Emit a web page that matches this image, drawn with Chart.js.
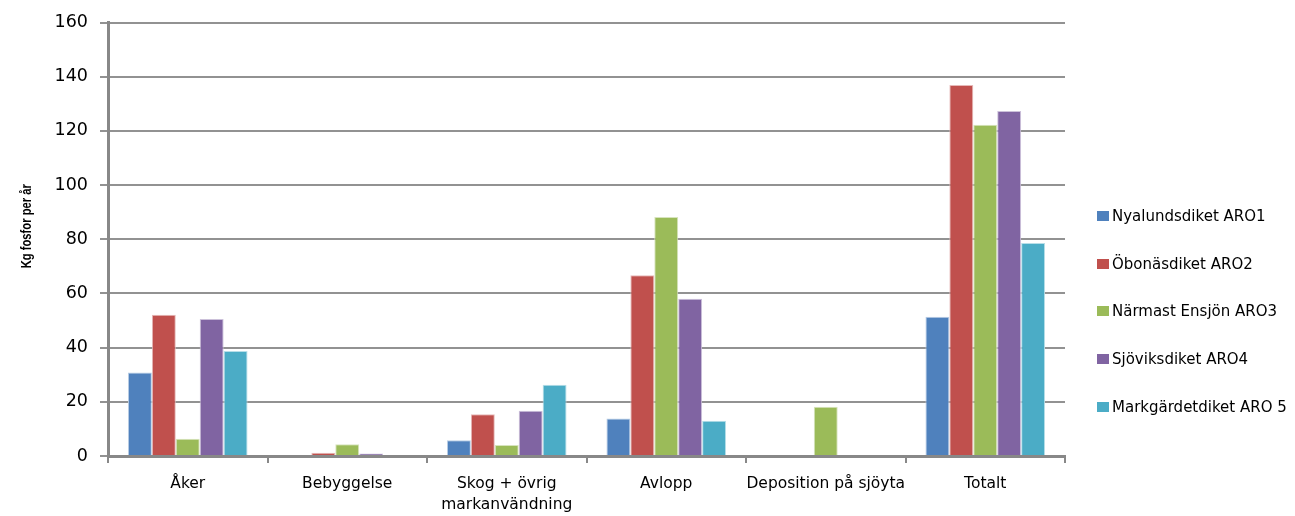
<!DOCTYPE html>
<html>
<head>
<meta charset="utf-8">
<script src="https://cdn.jsdelivr.net/npm/chart.js@4/dist/chart.umd.min.js"></script>
<style>
  html, body { margin: 0; padding: 0; background: #ffffff; }
  #wrap { position: relative; width: 1295px; height: 516px; }
  #c { display: block; }
  #legend { position: absolute; left: 0; top: 0; font-family: 'DejaVu Sans', sans-serif; font-size: 15px; color: #000; }
  .item { position: absolute; white-space: nowrap; height: 20px; line-height: 20px; display: flex; align-items: center; }
  .box { width: 12px; height: 10px; margin-right: 3px; }
</style>
</head>
<body>
<div id="wrap">
  <canvas id="c" width="1295" height="516"></canvas>
  <div id="legend"></div>
</div>
<script>
// Categories (phosphorus sources) and kg P per year for each sub-catchment
const categories = ['Åker', 'Bebyggelse', ['Skog + övrig', 'markanvändning'], 'Avlopp', 'Deposition på sjöyta', 'Totalt'];
const seriesNames = ['Nyalundsdiket ARO1', 'Öbonäsdiket ARO2', 'Närmast Ensjön ARO3', 'Sjöviksdiket ARO4', 'Markgärdetdiket ARO 5'];
const nyalundsdiket   = [30.8, 0,   5.8, 13.8, 0,    51.4];
const obonasdiket     = [52.1, 1.2, 15.4, 66.7, 0,   136.9];
const narmastEnsjon   = [6.4,  4.3, 4.1, 88.2, 18.2, 122.3];
const sjoviksdiket    = [50.6, 0.9, 16.7, 58.0, 0,   127.3];
const markgardetdiket = [38.8, 0,   26.3, 13.0, 0,    78.6];
const yTickValues = [0, 20, 40, 60, 80, 100, 120, 140, 160];
const yAxisTitle = 'Kg fosfor per år';

const seriesValues = [nyalundsdiket, obonasdiket, narmastEnsjon, sjoviksdiket, markgardetdiket];
const fillColors = ['#4F81BD', '#C0504D', '#9BBB59', '#8064A2', '#4BACC6'];
const edgeColors = ['#B9CDE5', '#E6B9B8', '#D7E4BD', '#CCC1DA', '#B7DEE8'];

const datasets = seriesNames.map((name, i) => ({
  label: name,
  data: seriesValues[i],
  backgroundColor: fillColors[i],
  borderColor: edgeColors[i],
  borderWidth: 1,
  categoryPercentage: 0.75,
  barPercentage: 1.0
}));

const gridGrey = '#929292';
const axisGrey = '#888888';

// Narrow bold axis title, drawn rotated in the space reserved left of the tick labels
const yTitlePlugin = {
  id: 'yTitle',
  afterDraw(chart) {
    const { ctx, chartArea } = chart;
    ctx.save();
    ctx.translate(27, (chartArea.top + chartArea.bottom) / 2 - 13);
    ctx.rotate(-Math.PI / 2);
    ctx.scale(0.8, 1);
    ctx.font = "bold 14px 'Liberation Sans', sans-serif";
    ctx.fillStyle = '#000';
    ctx.textAlign = 'center';
    ctx.textBaseline = 'middle';
    ctx.fillText(yAxisTitle, 0, 0);
    ctx.restore();
  }
};

new Chart(document.getElementById('c'), {
  type: 'bar',
  data: { labels: categories, datasets },
  plugins: [yTitlePlugin],
  options: {
    responsive: false,
    animation: false,
    layout: { padding: { left: 0, right: 230, top: 22, bottom: 0 } },
    plugins: { legend: { display: false }, tooltip: { enabled: false } },
    scales: {
      x: {
        afterFit: (scale) => { scale.height = 60; },
        grid: { drawOnChartArea: false, drawTicks: true, tickLength: 7, color: axisGrey, lineWidth: 2 },
        border: { display: true, color: axisGrey, width: 3 },
        ticks: {
          color: '#000',
          padding: 11,
          maxRotation: 0,
          autoSkip: false,
          font: { family: "'DejaVu Sans', sans-serif", size: 15.5, lineHeight: 1.35 }
        }
      },
      y: {
        min: 0,
        max: 160,
        afterFit: (scale) => { scale.width = 108; },
        afterBuildTicks: (scale) => { scale.ticks = yTickValues.map(v => ({ value: v })); },
        grid: { color: gridGrey, lineWidth: 2, tickLength: 8, drawTicks: true },
        border: { display: true, color: axisGrey, width: 3 },
        ticks: {
          color: '#000',
          padding: 12,
          font: { family: "'DejaVu Sans', sans-serif", size: 17.5 }
        }
      }
    }
  }
});

// Legend beside the plot
const legendLeft = 1097, legendTop = 206, legendStep = 47.7;
const legendEl = document.getElementById('legend');
seriesNames.forEach((name, i) => {
  const item = document.createElement('div');
  item.className = 'item';
  item.style.left = legendLeft + 'px';
  item.style.top = (legendTop + i * legendStep) + 'px';
  const box = document.createElement('span');
  box.className = 'box';
  box.style.background = fillColors[i];
  const label = document.createElement('span');
  label.textContent = name;
  item.appendChild(box);
  item.appendChild(label);
  legendEl.appendChild(item);
});
</script>
</body>
</html>
